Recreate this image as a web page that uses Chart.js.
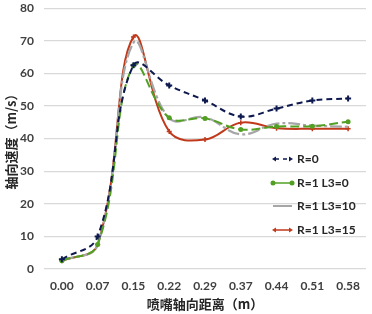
<!DOCTYPE html>
<html>
<head>
<meta charset="utf-8">
<script src="https://cdn.jsdelivr.net/npm/chart.js@4"></script>
<style>
  html, body { margin: 0; padding: 0; background: #fff; overflow: hidden; }
  #wrap { width: 372px; height: 323px; margin-top: -9px; }
</style>
</head>
<body>
<div id="wrap"><canvas id="velChart"></canvas></div>
<script>
// distances along nozzle axis (m)
const distances = ['0.00', '0.07', '0.15', '0.22', '0.29', '0.37', '0.44', '0.51', '0.58'];

// axial velocity (m/s)
const r0 = [3.0, 10.0, 62.5, 56.3, 51.7, 46.8, 49.2, 51.7, 52.3];
const r1L0 = [2.5, 7.5, 62.4, 46.4, 46.2, 42.8, 43.7, 43.8, 45.2];
const r1L10 = [2.5, 7.5, 69.4, 46.2, 46.5, 41.3, 44.6, 44.0, 43.6];
const r1L15 = [2.5, 7.5, 71.2, 42.2, 39.7, 44.9, 43.2, 43.0, 43.0];

const yTicks = { min: 0, max: 80, step: 10 };

const cjkFont = "'Noto Sans CJK SC', sans-serif";
const tickFont = { family: "Lato, 'Noto Sans', sans-serif", size: 12, weight: 'bold' };

// Excel-style legend drawn inside the plot, lower right
const sideLegend = {
    id: 'sideLegend',
    afterDraw(chart) {
        const ctx = chart.ctx;
        const x0 = 273, x1 = 292, tx = 297;
        const rows = [168, 192, 215, 239]; // canvas is shifted up 9px
        chart.data.datasets.forEach((ds, i) => {
            const y = rows[i];
            ctx.save();
            ctx.strokeStyle = ds.borderColor;
            ctx.lineWidth = ds.legendLineWidth;
            ctx.setLineDash(ds.legendDash);
            ctx.beginPath();
            ctx.moveTo(ds.legendMarker ? x0 + 2 : x0, y);
            ctx.lineTo(ds.legendMarker ? x1 - 2 : x1, y);
            ctx.stroke();
            ctx.setLineDash([]);
            if (ds.legendMarker === 'circle') {
                ctx.fillStyle = ds.borderColor;
                [x0, x1].forEach(px => {
                    ctx.beginPath();
                    ctx.arc(px, y, 2.5, 0, Math.PI * 2);
                    ctx.fill();
                });
            } else if (ds.legendMarker === 'arrow') {
                ctx.fillStyle = ds.borderColor;
                ctx.beginPath();
                ctx.moveTo(x0 - 1, y); ctx.lineTo(x0 + 3, y - 2.5); ctx.lineTo(x0 + 3, y + 2.5);
                ctx.closePath(); ctx.fill();
                ctx.beginPath();
                ctx.moveTo(x1 + 1, y); ctx.lineTo(x1 - 3, y - 2.5); ctx.lineTo(x1 - 3, y + 2.5);
                ctx.closePath(); ctx.fill();
            }
            ctx.fillStyle = '#262626';
            ctx.font = "bold 12px Lato, 'Noto Sans', sans-serif";
            ctx.textBaseline = 'middle';
            ctx.fillText(ds.label, tx, y + 0.5);
            ctx.restore();
        });
    }
};

new Chart(document.getElementById('velChart').getContext('2d'), {
    type: 'line',
    data: {
        labels: distances,
        datasets: [{
            label: 'R=0',
            data: r0,
            borderColor: '#0E1A4F',
            backgroundColor: '#0E1A4F',
            borderWidth: 2,
            borderDash: [6, 4],
            pointStyle: 'cross',
            pointRadius: 3,
            pointBorderWidth: 2,
            tension: 0.4,
            legendDash: [4, 4], legendLineWidth: 1.5, legendMarker: 'arrow'
        }, {
            label: 'R=1 L3=0',
            data: r1L0,
            borderColor: '#52A023',
            backgroundColor: '#52A023',
            borderWidth: 2,
            borderDash: [9, 4],
            pointStyle: 'circle',
            pointRadius: 2.5,
            pointBorderWidth: 0,
            tension: 0.4,
            legendDash: [], legendLineWidth: 1.5, legendMarker: 'circle'
        }, {
            label: 'R=1 L3=10',
            data: r1L10,
            borderColor: '#A6A6A6',
            backgroundColor: '#A6A6A6',
            borderWidth: 2.25,
            borderDash: [12, 3, 3, 3],
            pointRadius: 0,
            tension: 0.4,
            legendDash: [], legendLineWidth: 2, legendMarker: null
        }, {
            label: 'R=1 L3=15',
            data: r1L15,
            borderColor: '#C0391B',
            backgroundColor: '#C0391B',
            borderWidth: 2,
            pointStyle: 'cross',
            pointRadius: 2.5,
            pointBorderWidth: 1.5,
            tension: 0.4,
            legendDash: [], legendLineWidth: 1.5, legendMarker: 'arrow'
        }]
    },
    options: {
        responsive: true,
        maintainAspectRatio: false,
        animation: false,
        layout: { padding: { top: 0, right: 2, left: 0, bottom: 0 } },
        plugins: {
            legend: { display: false },
            tooltip: { enabled: false }
        },
        scales: {
            x: {
                offset: true,
                grid: { display: false, drawTicks: false },
                border: { display: false },
                ticks: { color: '#404040', font: tickFont, maxRotation: 0, padding: 10 },
                title: {
                    display: true,
                    text: '喷嘴轴向距离（m）',
                    color: '#262626',
                    font: { family: cjkFont, size: 13, weight: 'bold' },
                    padding: { top: 0, bottom: 2 }
                },
                afterFit(scale) { scale.height = 45; }
            },
            y: {
                min: yTicks.min,
                max: yTicks.max,
                grid: { color: '#D9D9D9', lineWidth: 1.2, drawTicks: false },
                border: { display: false },
                ticks: { stepSize: yTicks.step, color: '#404040', font: tickFont, padding: 10 },
                title: {
                    display: true,
                    text: '轴向速度（m/s）',
                    color: '#262626',
                    font: { family: cjkFont, size: 13, weight: 'bold' },
                    padding: { top: 3, bottom: 0 }
                },
                afterFit(scale) { scale.width = 44; }
            }
        }
    },
    plugins: [sideLegend]
});
</script>
</body>
</html>
